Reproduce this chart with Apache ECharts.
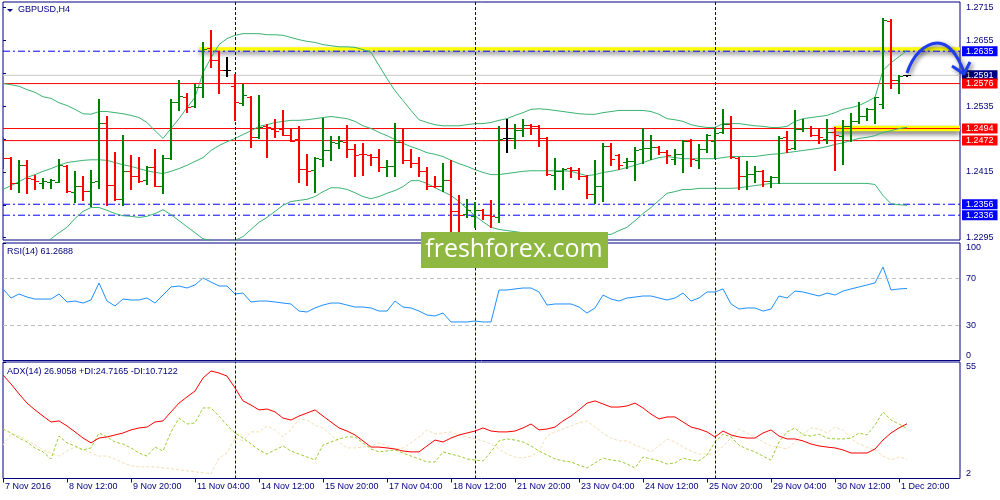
<!DOCTYPE html>
<html>
<head>
<meta charset="utf-8">
<script src="https://cdn.jsdelivr.net/npm/echarts@6/dist/echarts.min.js"></script>
<style>html,body{margin:0;padding:0;background:#fff}#c{width:1000px;height:500px}</style>
</head>
<body>
<div id="c"></div>
<script>
// ---- data (H4 bars, 7 Nov 2016 04:00 .. 2 Dec 2016 00:00) ----
var open = [1.2472,1.2440,1.2395,1.2428,1.2402,1.2395,1.2396,1.2397,1.2425,1.2378,
1.2389,1.2380,1.2398,1.2504,1.2391,1.2366,1.2417,1.2407,1.2400,1.2423,
1.2390,1.2440,1.2542,1.2551,1.2535,1.2569,1.2640,1.2619,1.2601,1.2571,
1.2541,1.2551,1.2478,1.2499,1.2494,1.2493,1.2483,1.2475,1.2420,1.2419,
1.2439,1.2455,1.2468,1.2470,1.2457,1.2448,1.2445,1.2442,1.2423,1.2425,
1.2469,1.2437,1.2432,1.2417,1.2390,1.2389,1.2400,1.2343,1.2339,1.2335,
1.2346,1.2337,1.2332,1.2476,1.2476,1.2492,1.2501,1.2498,1.2477,1.2410,
1.2417,1.2422,1.2419,1.2407,1.2375,1.2389,1.2462,1.2446,1.2433,1.2434,
1.2456,1.2458,1.2460,1.2451,1.2439,1.2448,1.2472,1.2437,1.2456,1.2472,
1.2487,1.2503,1.2441,1.2408,1.2411,1.2417,1.2399,1.2406,1.2478,1.2458,
1.2493,1.2495,1.2483,1.2475,1.2487,1.2481,1.2499,1.2507,1.2516,1.2530,
1.2539,1.2690,1.2582,1.2591];
var high = [1.2478,1.2442,1.2436,1.2436,1.2410,1.2404,1.2402,1.2439,1.2428,1.2416,
1.2407,1.2419,1.2547,1.2516,1.2452,1.2483,1.2445,1.2443,1.2426,1.2456,
1.2445,1.2547,1.2583,1.2559,1.2575,1.2651,1.2674,1.2635,1.2624,1.2594,
1.2575,1.2554,1.2556,1.2503,1.2512,1.2528,1.2495,1.2499,1.2447,1.2442,
1.2513,1.2481,1.2481,1.2501,1.2466,1.2467,1.2447,1.2457,1.2437,1.2505,
1.2495,1.2457,1.2443,1.2423,1.2408,1.2431,1.2436,1.2372,1.2366,1.2360,
1.2348,1.2364,1.2499,1.2512,1.2503,1.2512,1.2503,1.2501,1.2479,1.2441,
1.2422,1.2424,1.2422,1.2410,1.2436,1.2468,1.2467,1.2447,1.2441,1.2461,
1.2495,1.2483,1.2462,1.2454,1.2457,1.2473,1.2475,1.2466,1.2484,1.2495,
1.2530,1.2516,1.2443,1.2434,1.2426,1.2419,1.2407,1.2481,1.2489,1.2527,
1.2512,1.2498,1.2493,1.2512,1.2496,1.2510,1.2522,1.2542,1.2531,1.2552,
1.2696,1.2693,1.2592,1.2592];
var low = [1.2422,1.2383,1.2378,1.2376,1.2383,1.2386,1.2386,1.2397,1.2379,1.2360,
1.2363,1.2352,1.2385,1.2354,1.2363,1.2355,1.2383,1.2396,1.2393,1.2389,
1.2376,1.2439,1.2527,1.2524,1.2533,1.2552,1.2606,1.2558,1.2589,1.2509,
1.2537,1.2461,1.2477,1.2442,1.2478,1.2482,1.2471,1.2396,1.2391,1.2378,
1.2425,1.2436,1.2459,1.2442,1.2407,1.2410,1.2428,1.2417,1.2408,1.2408,
1.2432,1.2423,1.2407,1.2384,1.2387,1.2381,1.2308,1.2305,1.2332,1.2314,
1.2329,1.2314,1.2323,1.2452,1.2458,1.2481,1.2484,1.2462,1.2410,1.2384,
1.2384,1.2405,1.2402,1.2368,1.2359,1.2361,1.2428,1.2421,1.2422,1.2400,
1.2431,1.2439,1.2447,1.2431,1.2430,1.2414,1.2425,1.2422,1.2451,1.2440,
1.2485,1.2440,1.2384,1.2384,1.2396,1.2390,1.2387,1.2394,1.2451,1.2457,
1.2489,1.2481,1.2467,1.2467,1.2419,1.2430,1.2472,1.2504,1.2509,1.2505,
1.2532,1.2568,1.2558,1.2590];
var close = [1.2441,1.2395,1.2428,1.2403,1.2398,1.2398,1.2400,1.2427,1.2380,1.2389,
1.2380,1.2397,1.2505,1.2391,1.2365,1.2417,1.2407,1.2399,1.2423,1.2390,
1.2440,1.2542,1.2553,1.2534,1.2569,1.2639,1.2619,1.2600,1.2601,1.2542,
1.2556,1.2479,1.2496,1.2496,1.2490,1.2483,1.2472,1.2420,1.2417,1.2440,
1.2455,1.2469,1.2472,1.2457,1.2445,1.2447,1.2442,1.2423,1.2425,1.2469,
1.2437,1.2432,1.2417,1.2390,1.2389,1.2400,1.2343,1.2337,1.2346,1.2346,
1.2337,1.2334,1.2475,1.2476,1.2492,1.2501,1.2499,1.2477,1.2411,1.2417,
1.2421,1.2419,1.2407,1.2375,1.2389,1.2463,1.2439,1.2428,1.2435,1.2455,
1.2458,1.2460,1.2451,1.2445,1.2448,1.2472,1.2439,1.2456,1.2483,1.2486,
1.2503,1.2443,1.2408,1.2411,1.2417,1.2399,1.2406,1.2477,1.2457,1.2493,
1.2495,1.2483,1.2478,1.2487,1.2483,1.2499,1.2507,1.2516,1.2530,1.2551,
1.2691,1.2582,1.2590,1.2591];
var bbUpper = [1.2576,1.2574,1.2571,1.2565,1.2560,1.2552,1.2549,1.2541,1.2536,1.2529,
1.2521,1.2520,1.2525,1.2525,1.2523,1.2521,1.2518,1.2514,1.2505,1.2490,
1.2476,1.2494,1.2512,1.2532,1.2551,1.2596,1.2623,1.2647,1.2658,1.2664,
1.2667,1.2667,1.2667,1.2665,1.2665,1.2664,1.2660,1.2656,1.2653,1.2651,
1.2647,1.2645,1.2643,1.2643,1.2642,1.2638,1.2633,1.2609,1.2585,1.2563,
1.2545,1.2527,1.2510,1.2505,1.2501,1.2499,1.2499,1.2499,1.2501,1.2503,
1.2503,1.2505,1.2509,1.2512,1.2518,1.2523,1.2529,1.2530,1.2529,1.2527,
1.2525,1.2523,1.2521,1.2520,1.2520,1.2523,1.2525,1.2527,1.2527,1.2527,
1.2527,1.2525,1.2520,1.2512,1.2510,1.2507,1.2501,1.2498,1.2496,1.2496,
1.2503,1.2503,1.2503,1.2501,1.2499,1.2498,1.2496,1.2496,1.2498,1.2507,
1.2512,1.2514,1.2516,1.2518,1.2523,1.2529,1.2532,1.2536,1.2543,1.2551,
1.2600,1.2614,1.2625,1.2636];
var bbMiddle = [1.2383,1.2390,1.2397,1.2405,1.2410,1.2416,1.2421,1.2427,1.2432,1.2434,
1.2436,1.2437,1.2437,1.2436,1.2432,1.2428,1.2425,1.2421,1.2417,1.2414,
1.2412,1.2416,1.2421,1.2427,1.2434,1.2441,1.2454,1.2463,1.2470,1.2476,
1.2483,1.2490,1.2498,1.2501,1.2505,1.2507,1.2509,1.2509,1.2510,1.2512,
1.2514,1.2516,1.2514,1.2512,1.2507,1.2499,1.2494,1.2487,1.2481,1.2474,
1.2467,1.2461,1.2456,1.2450,1.2447,1.2443,1.2436,1.2430,1.2425,1.2419,
1.2414,1.2410,1.2410,1.2412,1.2414,1.2416,1.2417,1.2417,1.2417,1.2417,
1.2417,1.2416,1.2412,1.2408,1.2410,1.2414,1.2416,1.2419,1.2423,1.2427,
1.2432,1.2437,1.2441,1.2443,1.2441,1.2439,1.2439,1.2439,1.2439,1.2439,
1.2441,1.2443,1.2443,1.2443,1.2443,1.2445,1.2447,1.2448,1.2450,1.2452,
1.2454,1.2456,1.2458,1.2461,1.2465,1.2468,1.2472,1.2476,1.2478,1.2481,
1.2487,1.2490,1.2494,1.2496];
var bbLower = [1.2190,1.2206,1.2224,1.2244,1.2261,1.2279,1.2293,1.2304,1.2314,1.2330,
1.2343,1.2350,1.2350,1.2345,1.2339,1.2335,1.2334,1.2332,1.2334,1.2339,
1.2346,1.2337,1.2326,1.2315,1.2304,1.2293,1.2290,1.2286,1.2288,1.2290,
1.2297,1.2310,1.2323,1.2332,1.2343,1.2354,1.2361,1.2363,1.2365,1.2370,
1.2379,1.2386,1.2386,1.2383,1.2377,1.2370,1.2366,1.2370,1.2376,1.2381,
1.2388,1.2399,1.2399,1.2394,1.2386,1.2379,1.2372,1.2361,1.2348,1.2335,
1.2324,1.2314,1.2310,1.2308,1.2306,1.2304,1.2303,1.2303,1.2303,1.2303,
1.2303,1.2303,1.2303,1.2301,1.2301,1.2301,1.2301,1.2308,1.2314,1.2326,
1.2339,1.2350,1.2363,1.2376,1.2379,1.2383,1.2383,1.2385,1.2385,1.2385,
1.2385,1.2385,1.2386,1.2388,1.2390,1.2392,1.2394,1.2394,1.2394,1.2394,
1.2394,1.2394,1.2394,1.2394,1.2394,1.2394,1.2394,1.2394,1.2394,1.2392,
1.2372,1.2357,1.2355,1.2354];
var rsi = [60.9,53.2,56.6,54.0,52.3,52.3,52.3,56.6,49.8,50.6,
48.9,51.5,66.0,50.6,46.4,52.3,51.5,51.5,53.2,48.9,
55.7,62.6,63.4,61.7,64.3,70.2,66.8,63.4,63.4,56.6,
57.4,49.8,50.6,50.6,49.8,48.9,48.1,42.1,41.3,44.7,
47.2,48.9,48.9,47.2,45.5,45.5,44.7,42.1,42.1,50.6,
45.5,44.7,42.1,38.7,37.9,40.4,32.8,32.8,32.8,33.6,
32.8,32.8,60.0,60.0,60.9,61.7,61.7,58.3,47.2,48.1,
48.1,48.1,45.5,40.4,44.7,55.7,52.3,50.6,53.2,54.0,
54.9,54.9,53.2,51.5,53.2,57.4,50.6,53.2,58.3,58.3,
60.9,48.1,43.8,44.7,44.7,42.1,43.8,54.9,53.2,59.1,
58.3,56.6,54.9,57.4,55.7,59.1,60.9,62.6,64.3,66.0,
79.6,60.0,60.9,61.3];
var adx = [49.1,45.0,40.5,36.3,33.2,30.4,27.7,28.2,25.9,23.2,
20.4,18.2,20.4,20.9,21.8,22.7,24.1,25.0,25.4,27.7,
28.2,32.3,36.3,39.1,41.8,47.7,50.9,50.0,48.6,43.2,
37.3,35.4,33.2,33.6,32.3,29.5,28.6,30.4,31.8,33.2,
30.4,27.7,25.0,23.6,21.8,19.1,16.3,16.3,15.9,15.4,
14.5,14.1,14.1,16.8,19.5,18.6,20.4,21.8,22.7,23.6,
25.0,23.6,23.2,23.2,23.6,25.0,26.8,24.1,24.5,25.4,
28.2,30.4,33.2,36.3,37.3,35.9,34.5,34.5,35.0,36.3,
34.1,31.3,29.1,30.0,30.0,27.7,25.4,24.5,23.2,20.9,
23.6,21.8,20.9,20.4,20.4,22.7,24.1,21.3,20.0,20.0,
19.1,17.7,16.8,16.3,15.9,15.0,13.6,13.6,13.6,15.4,
19.5,22.7,25.0,26.9];
var plusDI = [24.5,22.7,20.4,18.6,15.9,14.1,10.9,21.3,18.2,16.8,
15.0,15.9,22.7,20.9,18.6,17.7,15.9,13.6,12.2,16.3,
14.5,23.2,29.5,26.8,27.3,34.1,34.1,30.4,26.3,22.7,
20.4,17.7,15.0,13.1,15.0,16.8,14.5,13.1,11.8,10.4,
17.2,18.6,20.0,20.9,20.9,18.2,15.4,14.1,14.5,15.0,
13.6,12.2,10.9,9.5,9.5,14.1,13.1,12.2,10.9,10.4,
10.0,14.1,19.1,20.0,19.5,18.6,16.8,14.5,12.7,10.9,
10.0,9.5,8.1,6.8,9.1,11.3,10.4,10.0,8.6,6.8,
11.8,10.9,10.0,8.6,9.1,11.3,10.4,10.0,12.7,18.6,
22.2,20.9,17.2,15.4,14.1,12.2,10.4,18.6,23.2,25.0,
21.8,21.3,22.2,20.4,20.0,20.0,20.4,22.7,21.8,26.3,
32.3,28.6,26.8,24.7];
var minusDI = [17.2,22.2,21.3,19.5,17.2,15.0,13.6,12.2,14.5,16.3,
15.0,13.6,12.2,12.2,10.9,9.1,7.8,7.3,7.3,7.3,
6.9,6.4,6.0,5.5,5.1,4.6,4.1,11.3,13.6,20.4,
19.1,23.2,23.2,25.9,24.1,20.9,24.1,29.1,28.6,26.3,
25.0,21.8,18.6,15.9,15.9,16.3,16.8,18.2,16.8,15.4,
15.9,18.2,20.9,24.1,22.2,22.7,23.2,21.8,20.9,20.0,
19.1,17.7,15.4,13.1,11.8,11.3,12.2,14.5,21.3,23.2,
24.5,25.9,27.3,28.2,25.4,22.7,20.4,19.1,19.1,17.2,
15.9,14.1,16.8,20.0,18.6,16.3,14.5,13.1,13.1,13.1,
16.8,20.4,24.5,22.7,20.9,18.6,16.8,16.3,15.4,18.6,
22.2,25.0,24.5,22.7,25.4,24.1,20.0,17.7,16.3,15.0,
12.2,10.4,11.8,10.7];

// time-axis labels, one every 8 bars starting at bar 0
var timeLabels = ['7 Nov 2016','8 Nov 12:00','9 Nov 20:00','11 Nov 04:00','14 Nov 12:00','15 Nov 20:00',
  '17 Nov 04:00','18 Nov 12:00','21 Nov 20:00','23 Nov 04:00','24 Nov 12:00','25 Nov 20:00',
  '29 Nov 04:00','30 Nov 12:00','1 Dec 20:00'];
var labelStep = 8;
var weekStartBars = [29, 59, 89];   // Monday 00:00 bars (period separators)
var priceTicks = [1.2295,1.2355,1.2415,1.2475,1.2535,1.2595,1.2655,1.2715];
var priceTickLabels = [1.2295,1.2415,1.2535,1.2655,1.2715];
var priceRange = [1.22908, 1.27247];
var blueLevels = [1.2635, 1.2356, 1.2336];   // dash-dot blue lines
var redLevels  = [1.2576, 1.2494, 1.2472];   // solid red lines
var bidLevel   = [1.2591];                   // current bid
var zoneFromBar = [24.5, 103.75];
var zoneLow  = [1.2636, 1.2489];
var zoneHigh = [1.2642, 1.2499];
var rsiLevels = [70, 30];
var rsiTicks = [0, 30, 70, 100];
var adxRange = [2, 55];
var rsiText = 'RSI(14) 61.2688';
var adxText = 'ADX(14) 26.9058 +DI:24.7165 -DI:10.7122';
var symbolText = 'GBPUSD,H4';

// ---- chart ----
var FONT = 'Liberation Sans';
var NAVY = '#000080';
var XMAX = 957 / 8;
var chart = echarts.init(document.getElementById('c'), null, {renderer: 'canvas'});

function pairs(arr) { return arr.map(function (v, i) { return [i, v]; }); }
var tickIdx = timeLabels.map(function (t, k) { return k * labelStep; });

// each horizontal level is a two-point line across the whole panel
function levelSeries(v, lineColor, lineType, bg) {
  return {
    type: 'line', xAxisIndex: 0, yAxisIndex: 0, z: 2, silent: true, clip: false,
    symbol: 'none', animation: false,
    data: [[0, v], [XMAX, v]],
    lineStyle: {color: lineColor, type: lineType, width: 1},
    emphasis: {disabled: true},
    endLabel: {
      show: true, distance: 2,
      formatter: function () { return v.toFixed(4); },
      color: '#ffffff', backgroundColor: bg, padding: [1, 4, 0, 4],
      fontFamily: FONT, fontSize: 9, lineHeight: 9
    }
  };
}
function sepMark() {
  return {
    silent: true, symbol: ['none', 'none'], animation: false, label: {show: false}, precision: 4,
    lineStyle: {color: NAVY, type: [3, 2], width: 1},
    data: weekStartBars.map(function (b) { return {xAxis: b}; })
  };
}
var zones = zoneFromBar.map(function (b, k) {
  return [{xAxis: b, yAxis: zoneLow[k]}, {xAxis: XMAX, yAxis: zoneHigh[k]}];
});

function xAxisFor(k) {
  var bottom = k === 2;
  return {
    type: 'value', gridIndex: k, min: 0, max: XMAX,
    axisLine: {show: false}, splitLine: {show: false},
    axisTick: {show: bottom, customValues: tickIdx, length: 4, lineStyle: {color: NAVY}},
    axisLabel: {
      show: bottom, customValues: tickIdx, align: 'left', margin: 4, hideOverlap: false,
      padding: [0, 0, 0, 2],
      color: NAVY, fontFamily: FONT, fontSize: 9,
      formatter: function (v) { return timeLabels[Math.round(v / labelStep)] || ''; }
    }
  };
}
function yAxisFor(k, min, max, ticks, labels, fmt) {
  var lab = {
    show: true, customValues: labels, margin: 6, hideOverlap: false,
    color: NAVY, fontFamily: FONT, fontSize: 9, formatter: fmt
  };
  if (k !== 0) { lab.verticalAlignMinLabel = 'bottom'; lab.verticalAlignMaxLabel = 'top'; }
  return {
    type: 'value', gridIndex: k, position: 'right', min: min, max: max, scale: true,
    axisLine: {show: false}, splitLine: {show: false},
    axisTick: {show: true, customValues: ticks, length: 3, lineStyle: {color: NAVY}},
    axisLabel: lab
  };
}
var gridBase = {show: true, borderColor: NAVY, borderWidth: 1, backgroundColor: '#ffffff', containLabel: false};

var levelSeriesList = []
  .concat(bidLevel.map(function (v) { return levelSeries(v, '#c8c8c8', 'solid', '#000080'); }))
  .concat(redLevels.map(function (v) { return levelSeries(v, '#ff0000', 'solid', '#ff0000'); }))
  .concat(blueLevels.map(function (v) { return levelSeries(v, '#0000ff', [7, 3, 2, 3], '#0000ff'); }));

var option = {
  animation: false,
  backgroundColor: '#ffffff',
  grid: [
    Object.assign({left: 3, top: 2, width: 957, height: 238}, gridBase),
    Object.assign({left: 3, top: 243, width: 957, height: 117.5}, gridBase),
    Object.assign({left: 3, top: 362, width: 957, height: 116.5}, gridBase)
  ],
  xAxis: [xAxisFor(0), xAxisFor(1), xAxisFor(2)],
  yAxis: [
    yAxisFor(0, priceRange[0], priceRange[1], priceTicks, priceTickLabels, function (v) { return v.toFixed(4); }),
    yAxisFor(1, 0, 100, rsiTicks, rsiTicks, function (v) { return String(Math.round(v)); }),
    yAxisFor(2, adxRange[0], adxRange[1], adxRange, adxRange, function (v) { return String(Math.round(v)); })
  ],
  series: [
    {
      type: 'line', xAxisIndex: 0, yAxisIndex: 0, data: [], z: 1, silent: true,
      markArea: {
        silent: true, animation: false,
        itemStyle: {color: '#ffff00', shadowBlur: 5, shadowColor: 'rgba(0,0,0,0.55)', shadowOffsetY: 3},
        data: zones
      }
    },
    {type: 'line', xAxisIndex: 0, yAxisIndex: 0, data: [], z: 1, silent: true, markLine: sepMark()}
  ].concat(levelSeriesList).concat([
    {name: 'BB up', type: 'line', xAxisIndex: 0, yAxisIndex: 0, data: pairs(bbUpper), symbol: 'none', z: 3,
      lineStyle: {color: '#3cb371', width: 1}, clip: true},
    {name: 'BB mid', type: 'line', xAxisIndex: 0, yAxisIndex: 0, data: pairs(bbMiddle), symbol: 'none', z: 3,
      lineStyle: {color: '#3cb371', width: 1}, clip: true},
    {name: 'BB low', type: 'line', xAxisIndex: 0, yAxisIndex: 0, data: pairs(bbLower), symbol: 'none', z: 3,
      lineStyle: {color: '#3cb371', width: 1}, clip: true},
    {
      name: 'GBPUSD', type: 'custom', xAxisIndex: 0, yAxisIndex: 0, z: 5, clip: true,
      data: open.map(function (o, i) { return [i, o, high[i], low[i], close[i]]; }),
      encode: {x: 0, y: [1, 2, 3, 4]},
      renderItem: function (params, api) {
        var i = api.value(0), ov = api.value(1), cv = api.value(4);
        var pO = api.coord([i, ov]), pH = api.coord([i, api.value(2)]);
        var pL = api.coord([i, api.value(3)]), pC = api.coord([i, cv]);
        var col = cv > ov ? '#008000' : (cv < ov ? '#ff0000' : '#000000');
        var x = Math.round(pH[0]);
        var yT = Math.round(pH[1]), yB = Math.round(pL[1]);
        var yo = Math.round(pO[1]) + 0.5, yc = Math.round(pC[1]) + 0.5;
        return {type: 'group', children: [
          {type: 'rect', shape: {x: x - 1, y: yT, width: 2, height: Math.max(1, yB - yT + 1)}, style: {fill: col}},
          {type: 'line', shape: {x1: x - 4, y1: yo, x2: x - 1, y2: yo}, style: {stroke: col, lineWidth: 1}},
          {type: 'line', shape: {x1: x + 1, y1: yc, x2: x + 4, y2: yc}, style: {stroke: col, lineWidth: 1}}
        ]};
      }
    },
    {
      name: 'RSI', type: 'line', xAxisIndex: 1, yAxisIndex: 1, data: pairs(rsi), symbol: 'none', z: 3,
      lineStyle: {color: '#1e90ff', width: 1},
      markLine: {
        silent: true, symbol: ['none', 'none'], animation: false, label: {show: false}, precision: 4,
        lineStyle: {color: '#c0c0c0', type: [4, 3], width: 1},
        data: rsiLevels.map(function (v) { return {yAxis: v}; })
      }
    },
    {type: 'line', xAxisIndex: 1, yAxisIndex: 1, data: [], z: 1, silent: true, markLine: sepMark()},
    {name: '-DI', type: 'line', xAxisIndex: 2, yAxisIndex: 2, data: pairs(minusDI), symbol: 'none', z: 2,
      lineStyle: {color: '#f5deb3', width: 1, type: [3, 2]}},
    {name: '+DI', type: 'line', xAxisIndex: 2, yAxisIndex: 2, data: pairs(plusDI), symbol: 'none', z: 3,
      lineStyle: {color: '#9acd32', width: 1, type: [3, 2]}},
    {name: 'ADX', type: 'line', xAxisIndex: 2, yAxisIndex: 2, data: pairs(adx), symbol: 'none', z: 4,
      lineStyle: {color: '#ff0000', width: 1}},
    {type: 'line', xAxisIndex: 2, yAxisIndex: 2, data: [], z: 1, silent: true, markLine: sepMark()}
  ]),
  graphic: [
    {type: 'polygon', shape: {points: [[7, 9], [13, 9], [10, 12]]}, style: {fill: NAVY}, z: 50},
    {type: 'text', x: 18, y: 10, style: {text: symbolText, fill: NAVY, font: '9px "Liberation Sans"', textVerticalAlign: 'middle'}, z: 50},
    {type: 'text', x: 7, y: 252, style: {text: rsiText, fill: NAVY, font: '9px "Liberation Sans"', textVerticalAlign: 'middle'}, z: 50},
    {type: 'text', x: 7, y: 372, style: {text: adxText, fill: NAVY, font: '9px "Liberation Sans"', textVerticalAlign: 'middle'}, z: 50},
    {type: 'rect', shape: {x: 421, y: 232, width: 187, height: 36}, style: {fill: '#8fb843'}, z: 100},
    {type: 'text', x: 514, y: 250, style: {text: 'freshforex.com', fill: '#ffffff', font: '25px "Open Sans"',
      textAlign: 'center', textVerticalAlign: 'middle'}, z: 101},
    {type: 'bezierCurve', shape: {x1: 907, y1: 73, cpx1: 913, cpy1: 55, cpx2: 924, cpy2: 44, x2: 937, y2: 43},
      style: {fill: null, stroke: '#1f3cf0', lineWidth: 3, shadowBlur: 4, shadowColor: 'rgba(0,0,0,0.5)', shadowOffsetX: 2, shadowOffsetY: 2}, z: 110},
    {type: 'bezierCurve', shape: {x1: 937, y1: 43, cpx1: 950, cpy1: 43, cpx2: 958, cpy2: 56, x2: 964, y2: 72},
      style: {fill: null, stroke: '#1f3cf0', lineWidth: 3, shadowBlur: 4, shadowColor: 'rgba(0,0,0,0.5)', shadowOffsetX: 2, shadowOffsetY: 2}, z: 110},
    {type: 'polyline', shape: {points: [[952, 66], [964, 74], [970, 62]]},
      style: {fill: null, stroke: '#1f3cf0', lineWidth: 3, lineJoin: 'round', shadowBlur: 4, shadowColor: 'rgba(0,0,0,0.5)', shadowOffsetX: 2, shadowOffsetY: 2}, z: 110}
  ]
};
chart.setOption(option);
</script>
</body>
</html>
